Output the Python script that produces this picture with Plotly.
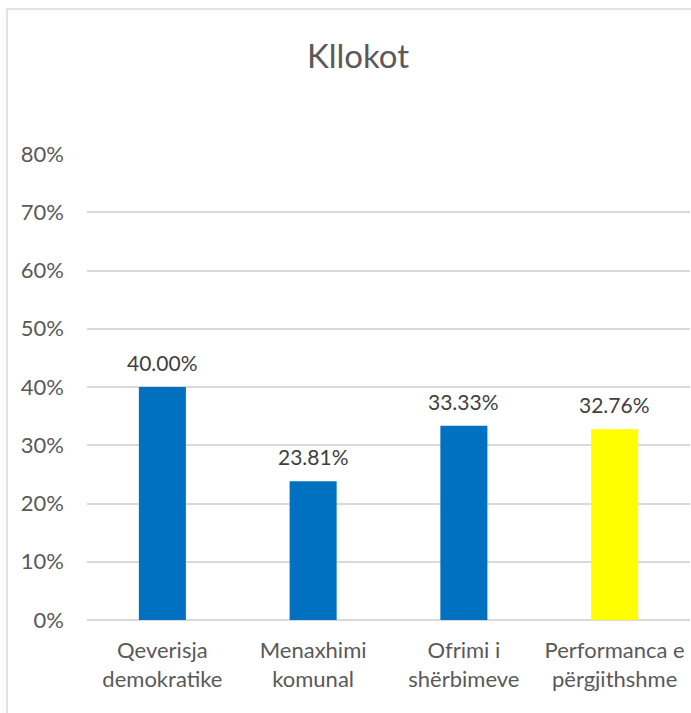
import plotly.graph_objects as go

# chart data
categories = ["Qeverisja<br>demokratike", "Menaxhimi<br>komunal",
              "Ofrimi i<br>shërbimeve", "Performanca e<br>përgjithshme"]
values = [0.4000, 0.2381, 0.3333, 0.3276]
bar_colors = ["#0070C0", "#0070C0", "#0070C0", "#FFFF00"]
y_ticks = [0, 0.1, 0.2, 0.3, 0.4, 0.5, 0.6, 0.7, 0.8]
y_tick_labels = ["0%", "10%", "20%", "30%", "40%", "50%", "60%", "70%", "80%"]

FONT = "Lato, Calibri, sans-serif"

fig = go.Figure(
    go.Bar(
        x=categories,
        y=values,
        marker=dict(color=bar_colors, line=dict(width=0)),
        width=0.312,
        hoverinfo="skip",
    )
)

# value labels sitting above each bar
for cat, val in zip(categories, values):
    fig.add_annotation(
        x=cat, y=val, text=f"{val * 100:.2f}%",
        showarrow=False, yanchor="bottom", yshift=10,
        font=dict(family=FONT, size=21, color="#404040"),
    )

fig.update_layout(
    width=691,
    height=713,
    margin=dict(l=87, r=1, t=154, b=93),
    paper_bgcolor="white",
    plot_bgcolor="white",
    showlegend=False,
    title=dict(
        text="Kllokot",
        x=358 / 691, xanchor="center",
        y=1 - 56 / 713, yanchor="middle",
        font=dict(family=FONT, size=33, color="#595959"),
    ),
    font=dict(family=FONT, color="#595959"),
    xaxis=dict(
        showgrid=False,
        showline=False,
        ticks="",
        tickfont=dict(family=FONT, size=22, color="#595959"),
        ticklabelstandoff=15,
        fixedrange=True,
    ),
    yaxis=dict(
        range=[0, 0.8],
        tickvals=y_ticks,
        ticktext=y_tick_labels,
        showgrid=True,
        gridcolor="#D9D9D9",
        gridwidth=1.5,
        zeroline=True,
        zerolinecolor="#D9D9D9",
        zerolinewidth=1.5,
        showline=False,
        ticks="",
        tickfont=dict(family=FONT, size=22, color="#595959"),
        ticklabelstandoff=22,
        fixedrange=True,
    ),
    # chart-area border, running off the right and bottom edges
    shapes=[
        dict(
            type="rect", xref="paper", yref="paper",
            x0=(7 - 87) / 603, x1=(720 - 87) / 603,
            y0=(620 - 730) / 466, y1=(620 - 9) / 466,
            line=dict(color="#D9D9D9", width=1.5),
            fillcolor="rgba(0,0,0,0)",
            layer="below",
        )
    ],
)

fig.write_html(
    "out.html",
    config={"displayModeBar": False},
    post_script="document.body.style.margin='0';document.body.style.overflow='hidden';",
)
